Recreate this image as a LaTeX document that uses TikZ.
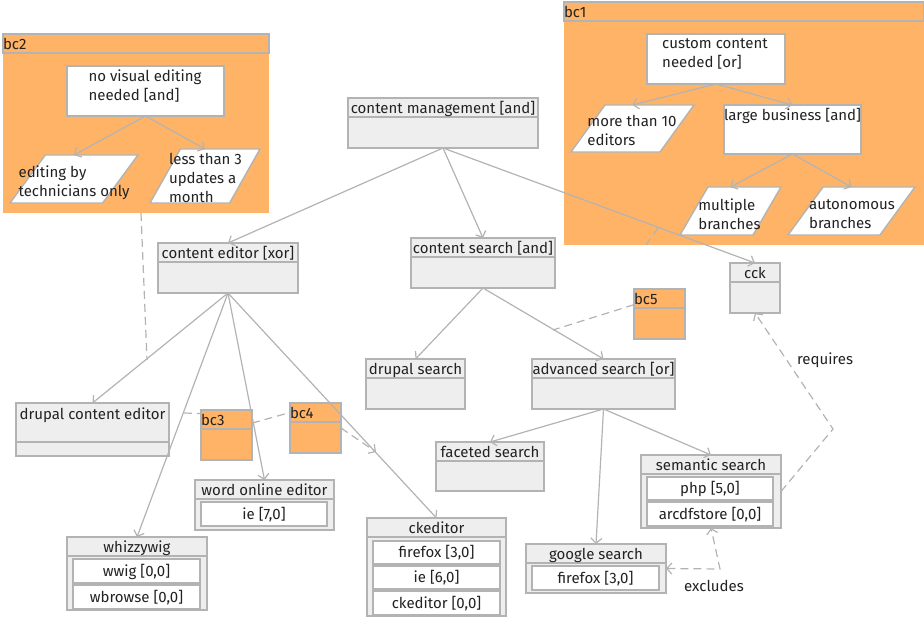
\documentclass[tikz,border=0pt]{standalone}
\usepackage{fontspec}
\setmainfont{Fira Sans}
\usetikzlibrary{arrows.meta,shapes.geometric}

\definecolor{bcorange}{HTML}{FFB366}
\definecolor{featgray}{HTML}{EEEEEE}
\definecolor{edgegray}{HTML}{B3B3B3}
\definecolor{inkgray}{HTML}{222222}

\tikzset{
  boxbase/.style={draw=edgegray, line width=1.4pt, inner sep=0pt, outer sep=0pt, text=inkgray, text height=15pt, text depth=3pt},
  featbox/.style={boxbase, fill=featgray},
  headbox/.style={featbox, anchor=north, minimum height=19pt},
  bcbox/.style={boxbase, fill=bcorange},
  bcplain/.style={bcbox, draw=none},
  bchead/.style={bcbox, anchor=north, minimum height=19pt, text width=#1, align=left},
  whitebox/.style={boxbase, fill=white, text height=13pt, text depth=3pt},
  slantbox/.style={boxbase, fill=white, trapezium, trapezium left angle=76, trapezium right angle=104, trapezium stretches=true},
  caption/.style={inner sep=0pt, outer sep=0pt, text=inkgray, align=left},
  edgeline/.style={draw=edgegray, line width=1.2pt, ->},
  linkline/.style={draw=edgegray, line width=1.2pt, dash pattern=on 8pt off 5pt}
}

\begin{document}
\begin{tikzpicture}[
  x=1pt, y=-1pt,
  every node/.append style={font=\fontsize{15}{19}\selectfont},
  >={Straight Barb[length=5pt,width=11pt]}
]
\useasboundingbox (0,0) rectangle (924,618);

% Context bc1
\node[bcplain, minimum width=360pt, minimum height=243pt] (bc1) at (744,123.5) {};
\node[bchead=360pt, minimum width=360pt] (bc1head) at (bc1.north) {bc1};
\node[whitebox, minimum width=138pt, minimum height=50pt] (custom) at (716,59) {};
\node[caption] (customtext) at (715,54) {custom content\\needed [or]};
\node[slantbox, minimum width=123pt, minimum height=47pt] (editors) at (632.5,128.5) {\phantom{x}};
\node[caption] (editorstext) at (632,130) {more than 10\\editors};
\node[whitebox, minimum width=137pt, minimum height=49pt] (large) at (792.5,129.5) {};
\node[caption] (largetext) at (792.5,116) {large business [and]};
\node[slantbox, minimum width=101pt, minimum height=48pt] (multiple) at (730.5,211) {\phantom{x}};
\node[caption] (multipletext) at (729.5,214) {multiple\\branches};
\node[slantbox, minimum width=127pt, minimum height=48pt] (autonomous) at (851.5,211) {\phantom{x}};
\node[caption] (autonomoustext) at (852,214) {autonomous\\branches};

% Context bc2
\node[bcplain, minimum width=266pt, minimum height=179pt] (bc2) at (136,123.5) {};
\node[bchead=266pt, minimum width=266pt] (bc2head) at (bc2.north) {bc2};
\node[whitebox, minimum width=157pt, minimum height=50pt] (novisual) at (145.5,91) {};
\node[caption] (novisualtext) at (145,86) {no visual editing\\needed [and]};
\node[slantbox, minimum width=128pt, minimum height=48pt] (technicians) at (74,179) {\phantom{x}};
\node[caption] (technicianstext) at (74,183) {editing by\\technicians only};
\node[slantbox, minimum width=110pt, minimum height=54pt] (updates) at (205,176) {\phantom{x}};
\node[caption] (updatestext) at (205.5,178) {less than 3\\updates a\\month};

% Features without attributes
\node[featbox, minimum width=190pt, minimum height=50pt] (management) at (443,123) {};
\node[headbox, minimum width=190pt] (managementhead) at (management.north) {content management [and]};
\node[featbox, minimum width=140pt, minimum height=50pt] (editor) at (228,268) {};
\node[headbox, minimum width=140pt] (editorhead) at (editor.north) {content editor [xor]};
\node[featbox, minimum width=144pt, minimum height=50pt] (search) at (483,263) {};
\node[headbox, minimum width=144pt] (searchhead) at (search.north) {content search [and]};
\node[featbox, minimum width=50pt, minimum height=50pt] (cck) at (755,288) {};
\node[headbox, minimum width=50pt] (cckhead) at (cck.north) {cck};
\node[featbox, minimum width=99pt, minimum height=50pt] (drupalsearch) at (415.5,384) {};
\node[headbox, minimum width=99pt] (drupalsearchhead) at (drupalsearch.north) {drupal search};
\node[featbox, minimum width=143pt, minimum height=50pt] (advanced) at (603.5,384) {};
\node[headbox, minimum width=143pt] (advancedhead) at (advanced.north) {advanced search [or]};
\node[featbox, minimum width=108pt, minimum height=49pt] (faceted) at (490,466.5) {};
\node[headbox, minimum width=108pt] (facetedhead) at (faceted.north) {faceted search};
\node[featbox, minimum width=153pt, minimum height=53pt] (drupaleditor) at (92.5,429.5) {};
\node[headbox, minimum width=153pt, minimum height=39pt] (drupaleditorhead) at (drupaleditor.north) {};
\node[caption] (drupaleditortext) at (92.5,415) {drupal content editor};

% Features with attributes
\node[featbox, minimum width=139pt, minimum height=50pt] (word) at (264.5,505) {};
\node[headbox, minimum width=139pt] (wordhead) at (word.north) {word online editor};
\node[whitebox, minimum width=126pt, minimum height=24pt] (wordie) at (264,514) {ie [7,0]};
\node[featbox, minimum width=140pt, minimum height=73pt] (whizzy) at (137,573.5) {};
\node[headbox, minimum width=140pt] (whizzyhead) at (whizzy.north) {whizzywig};
\node[whitebox, minimum width=127pt, minimum height=24pt] (wwig) at (136.5,571) {wwig [0,0]};
\node[whitebox, minimum width=127pt, minimum height=24pt] (wbrowse) at (136.5,597) {wbrowse [0,0]};
\node[featbox, minimum width=139pt, minimum height=98pt] (ckeditor) at (436.5,567) {};
\node[headbox, minimum width=139pt] (ckeditorhead) at (ckeditor.north) {ckeditor};
\node[whitebox, minimum width=127pt, minimum height=23pt] (ckfirefox) at (436.5,552.5) {firefox [3,0]};
\node[whitebox, minimum width=127pt, minimum height=23pt] (ckie) at (436.5,577.5) {ie [6,0]};
\node[whitebox, minimum width=127pt, minimum height=24pt] (ckck) at (436.5,603) {ckeditor [0,0]};
\node[featbox, minimum width=140pt, minimum height=73pt] (semantic) at (711,491.5) {};
\node[headbox, minimum width=140pt] (semantichead) at (semantic.north) {semantic search};
\node[whitebox, minimum width=126pt, minimum height=23pt] (php) at (710,488.5) {php [5,0]};
\node[whitebox, minimum width=126pt, minimum height=24pt] (arcdf) at (710,514) {arcdfstore [0,0]};
\node[featbox, minimum width=140pt, minimum height=49pt] (google) at (596,568.5) {};
\node[headbox, minimum width=140pt] (googlehead) at (google.north) {google search};
\node[whitebox, minimum width=127pt, minimum height=24pt] (googlefirefox) at (595.5,578) {firefox [3,0]};

% Small contexts
\node[bcbox, minimum width=51pt, minimum height=50pt] (bc3) at (226.5,435) {};
\node[bchead=51pt, minimum width=51pt] (bc3head) at (bc3.north) {bc3};
\node[bcbox, minimum width=51pt, minimum height=50pt] (bc4) at (315.5,428) {};
\node[bchead=51pt, minimum width=51pt] (bc4head) at (bc4.north) {bc4};
\node[bcbox, minimum width=51pt, minimum height=50pt] (bc5) at (659.5,314) {};
\node[bchead=51pt, minimum width=51pt] (bc5head) at (bc5.north) {bc5};

% Free ends and bends
\coordinate (bc1start) at (658,228);
\coordinate (bc1end) at (646,245);
\coordinate (bc2end) at (147,360);
\coordinate (bc2start) at (141,213);
\coordinate (bc3start) at (184,413);
\coordinate (bc4end) at (376,452);
\coordinate (bc5end) at (553,330);
\coordinate (reqbend) at (833,429);
\coordinate (exbend) at (720,569);

% Tree edges
\draw[edgeline] (novisual.south) -- (technicians.north);
\draw[edgeline] (novisual.south) -- (updates.north);
\draw[edgeline] (custom.south) -- (editors.north);
\draw[edgeline] (custom.south) -- (large.north);
\draw[edgeline] (large.south) -- (multiple.north);
\draw[edgeline] (large.south) -- (autonomous.north);
\draw[edgeline] (management.south) -- (editor.north);
\draw[edgeline] (management.south) -- (search.north);
\draw[edgeline] (management.south) -- (cck.north);
\draw[edgeline] (editor.south) -- (drupaleditor.north);
\draw[edgeline] (editor.south) -- (whizzy.north);
\draw[edgeline] (editor.south) -- (word.north);
\draw[edgeline] (editor.south) -- (ckeditor.north);
\draw[edgeline] (search.south) -- (drupalsearch.north);
\draw[edgeline] (search.south) -- (advanced.north);
\draw[edgeline] (advanced.south) -- (faceted.north);
\draw[edgeline] (advanced.south) -- (google.north);
\draw[edgeline] (advanced.south) -- (semantic.north);

% Context links
\draw[linkline] (bc1start) -- (bc1end);
\draw[linkline] (bc2start) -- (bc2end);
\draw[linkline] (bc3start) -- (bc3.140);
\draw[linkline] (bc3.25) -- (bc4head.west);
\draw[linkline, ->] (bc4.east) -- (bc4end);
\draw[linkline] (bc5.160) -- (bc5end);

% Constraints
\draw[linkline, ->] (semantic.east) -- (reqbend) -- (cck.south);
\draw[linkline, <->] (google.east) -- (exbend) -- (semantic.south);
\node[caption] (requires) at (825,360) {requires};
\node[caption] (excludes) at (714,586) {excludes};

\end{tikzpicture}
\end{document}
